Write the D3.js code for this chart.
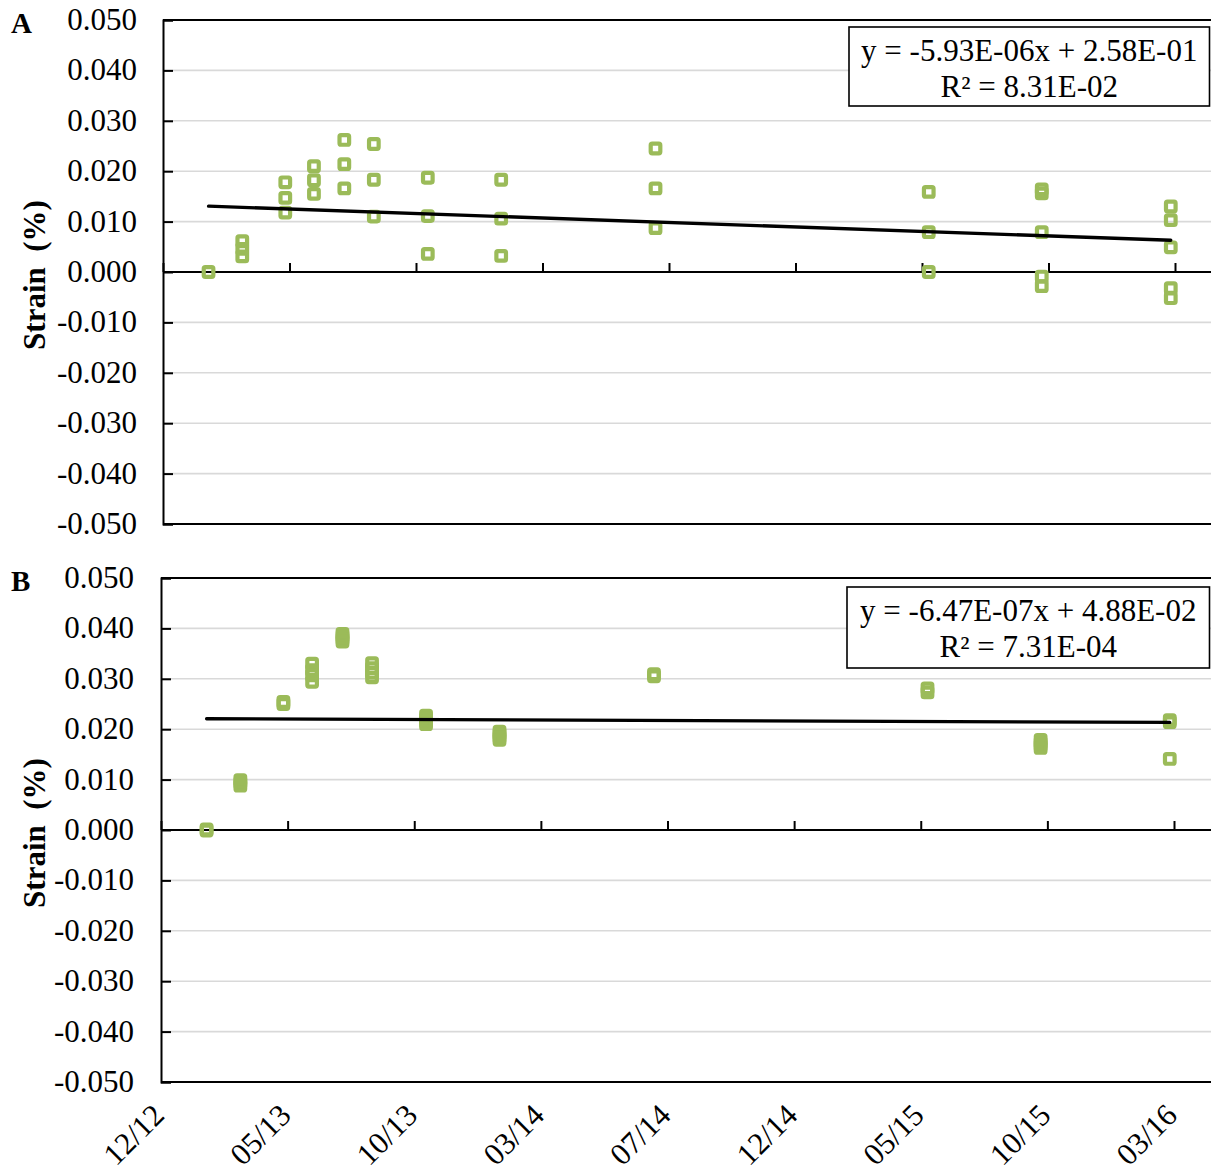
<!DOCTYPE html>
<html>
<head>
<meta charset="utf-8">
<script src="https://cdn.jsdelivr.net/npm/d3@7/dist/d3.min.js"></script>
<style>
  html, body { margin: 0; padding: 0; background: #fff; overflow: hidden; }
  svg { display: block; }
  text { font-family: "Liberation Serif", "Times New Roman", serif; fill: #000; }
</style>
</head>
<body>
<svg id="chart" width="1211" height="1172"></svg>
<script>
// Survey dates (shared by both gauges)
const sampleDates = ["2013-01-30", "2013-03-11", "2013-05-01", "2013-06-04", "2013-07-10", "2013-08-14",
                     "2013-10-17", "2014-01-12", "2014-07-14", "2015-06-03", "2015-10-15", "2016-03-16"];

// Strain readings (%) per survey date, gauge A
const strainA = [
  [0.0000],
  [0.0061, 0.0046, 0.0031],
  [0.0178, 0.0147, 0.0118],
  [0.0210, 0.0182, 0.0155],
  [0.0262, 0.0214, 0.0166],
  [0.0254, 0.0183, 0.0110],
  [0.0187, 0.0111, 0.0036],
  [0.0183, 0.0106, 0.0032],
  [0.0245, 0.0166, 0.0087],
  [0.0159, 0.0079, 0.0000],
  [0.0164, 0.0156, 0.0079, -0.0009, -0.0028],
  [0.0130, 0.0103, 0.0049, -0.0032, -0.0052]
];

// Strain readings (%) per survey date, gauge B
const strainB = [
  [0.0001, -0.0001],
  [0.0099, 0.0094, 0.0088],
  [0.0254, 0.0250],
  [0.0330, 0.0317, 0.0307, 0.0294],
  [0.0389, 0.0384, 0.0379, 0.0374],
  [0.0331, 0.0321, 0.0312, 0.0303],
  [0.0227, 0.0221, 0.0215, 0.0210],
  [0.0195, 0.0190, 0.0184, 0.0179],
  [0.0309, 0.0305],
  [0.0281, 0.0273],
  [0.0179, 0.0173, 0.0168, 0.0163],
  [0.0218, 0.0214, 0.0141]
];

// Linear trend (x = spreadsheet date serial)
const panelNames = ["A", "B"];
const trendSlopes = [-5.93E-06, -6.47E-07];
const trendIntercepts = [2.58E-01, 4.88E-02];
const rSquared = [8.31E-02, 7.31E-04];

// Axis ticks
const tickDates = ["2012-12-07", "2013-05-06", "2013-10-03", "2014-03-02", "2014-07-30",
                   "2014-12-27", "2015-05-26", "2015-10-23", "2016-03-21"];
const tickLabels = ["12/12", "05/13", "10/13", "03/14", "07/14", "12/14", "05/15", "10/15", "03/16"];
const yTicks = [0.05, 0.04, 0.03, 0.02, 0.01, 0, -0.01, -0.02, -0.03, -0.04, -0.05];

const parse = d3.utcParse("%Y-%m-%d");
const GREEN = "#9BBB59";
const FONT = "31px";
const excelEpoch = Date.UTC(1899, 11, 30);
const toSerial = d => (d.getTime() - excelEpoch) / 86400000;

function sci(v) {
  const [m, e] = v.toExponential(2).split("e");
  const ev = parseInt(e, 10);
  return m + "E" + (ev < 0 ? "-" : "+") + String(Math.abs(ev)).padStart(2, "0");
}

const svg = d3.select("#chart");

const panels = [
  { name: panelNames[0], values: strainA, slope: trendSlopes[0], intercept: trendIntercepts[0], r2: rSquared[0],
    left: 163, top: 20, bottom: 524, span: 1012, labelRight: 137,
    box: { x: 849, y: 27, w: 360.5, h: 79 } },
  { name: panelNames[1], values: strainB, slope: trendSlopes[1], intercept: trendIntercepts[1], r2: rSquared[1],
    left: 161, top: 578, bottom: 1082, span: 1013, labelRight: 134,
    box: { x: 847, y: 587, w: 362.5, h: 81 } }
];

const right = 1230;

panels.forEach((p, pi) => {
  const g = svg.append("g");
  const x = d3.scaleUtc()
    .domain([parse(tickDates[0]), parse(tickDates[tickDates.length - 1])])
    .range([p.left, p.left + p.span]);
  const y = d3.scaleLinear().domain([-0.05, 0.05]).range([p.bottom, p.top]);

  // horizontal gridlines
  g.append("g").selectAll("line")
    .data(yTicks.filter(v => Math.abs(v) > 1e-9 && Math.abs(v) < 0.0499))
    .join("line")
    .attr("x1", p.left).attr("x2", right)
    .attr("y1", d => y(d)).attr("y2", d => y(d))
    .attr("stroke", "#D9D9D9").attr("stroke-width", 1.6);

  // frame: top, bottom
  g.append("line").attr("x1", p.left).attr("x2", right).attr("y1", y(0.05)).attr("y2", y(0.05))
    .attr("stroke", "#000").attr("stroke-width", 2);
  g.append("line").attr("x1", p.left).attr("x2", right).attr("y1", y(-0.05)).attr("y2", y(-0.05))
    .attr("stroke", "#000").attr("stroke-width", 2);

  // y axis with inward ticks
  const yAxis = d3.axisRight(y).tickValues(yTicks).tickSize(10).tickFormat("");
  const ya = g.append("g").attr("transform", `translate(${p.left},0)`).call(yAxis);
  ya.select(".domain").attr("stroke", "#000").attr("stroke-width", 2);
  ya.selectAll(".tick line").attr("stroke", "#000").attr("stroke-width", 2);

  // y tick labels
  g.append("g").selectAll("text")
    .data(yTicks)
    .join("text")
    .attr("x", p.labelRight).attr("y", d => y(d) + 10)
    .attr("text-anchor", "end")
    .style("font-size", FONT)
    .text(d => d3.format(".3f")(d).replace("−", "-"));

  // x axis on the zero line, ticks pointing up
  const xAxis = d3.axisTop(x).tickValues(tickDates.map(parse)).tickSize(9).tickFormat("");
  const xa = g.append("g").attr("transform", `translate(0,${y(0)})`).call(xAxis);
  xa.select(".domain").remove();
  xa.selectAll(".tick line").attr("stroke", "#000").attr("stroke-width", 2);
  g.append("line").attr("x1", p.left).attr("x2", right).attr("y1", y(0)).attr("y2", y(0))
    .attr("stroke", "#000").attr("stroke-width", 2);

  // markers
  const pts = [];
  p.values.forEach((vals, i) => vals.forEach(v => pts.push({ date: parse(sampleDates[i]), v })));
  g.append("g").selectAll("rect")
    .data(pts)
    .join("rect")
    .attr("x", d => x(d.date) - 4.8).attr("y", d => y(d.v) - 4.8)
    .attr("width", 9.6).attr("height", 9.6).attr("rx", 1.5)
    .attr("fill", "none").attr("stroke", GREEN).attr("stroke-width", 4.2);

  // trend line from the fitted equation
  const d0 = parse(sampleDates[0]);
  const d1 = parse(sampleDates[sampleDates.length - 1]);
  const trend = [d0, d1].map(d => ({ date: d, v: p.slope * toSerial(d) + p.intercept }));
  g.append("path")
    .datum(trend)
    .attr("d", d3.line().x(d => x(d.date)).y(d => y(d.v)))
    .attr("fill", "none").attr("stroke", "#000").attr("stroke-width", 3.3)
    .attr("stroke-linecap", "round");

  // equation box
  g.append("rect")
    .attr("x", p.box.x).attr("y", p.box.y).attr("width", p.box.w).attr("height", p.box.h)
    .attr("fill", "#fff").attr("stroke", "#000").attr("stroke-width", 1.6);
  const cx = p.box.x + p.box.w / 2;
  g.append("text")
    .attr("x", cx).attr("y", p.box.y + 34)
    .attr("text-anchor", "middle").style("font-size", FONT)
    .text(`y = ${sci(p.slope)}x + ${sci(p.intercept)}`);
  g.append("text")
    .attr("x", cx).attr("y", p.box.y + 70)
    .attr("text-anchor", "middle").style("font-size", FONT)
    .text(`R² = ${sci(p.r2)}`);

  // axis title
  g.append("text")
    .attr("transform", `translate(45,${(p.top + p.bottom) / 2 + 3}) rotate(-90)`)
    .attr("text-anchor", "middle").style("font-size", FONT).style("font-weight", "bold")
    .attr("xml:space", "preserve")
    .text("Strain  (%)");

  // panel letter
  g.append("text")
    .attr("x", 11).attr("y", p.top + 13)
    .style("font-size", "29px").style("font-weight", "bold")
    .text(p.name);

  // date labels under the lower panel
  if (pi === panels.length - 1) {
    g.append("g").selectAll("text")
      .data(tickDates)
      .join("text")
      .attr("transform", d => `translate(${x(parse(d)) + 5},${p.bottom + 35}) rotate(-45)`)
      .attr("text-anchor", "end")
      .style("font-size", FONT)
      .text((d, i) => tickLabels[i]);
  }
});
</script>
</body>
</html>
